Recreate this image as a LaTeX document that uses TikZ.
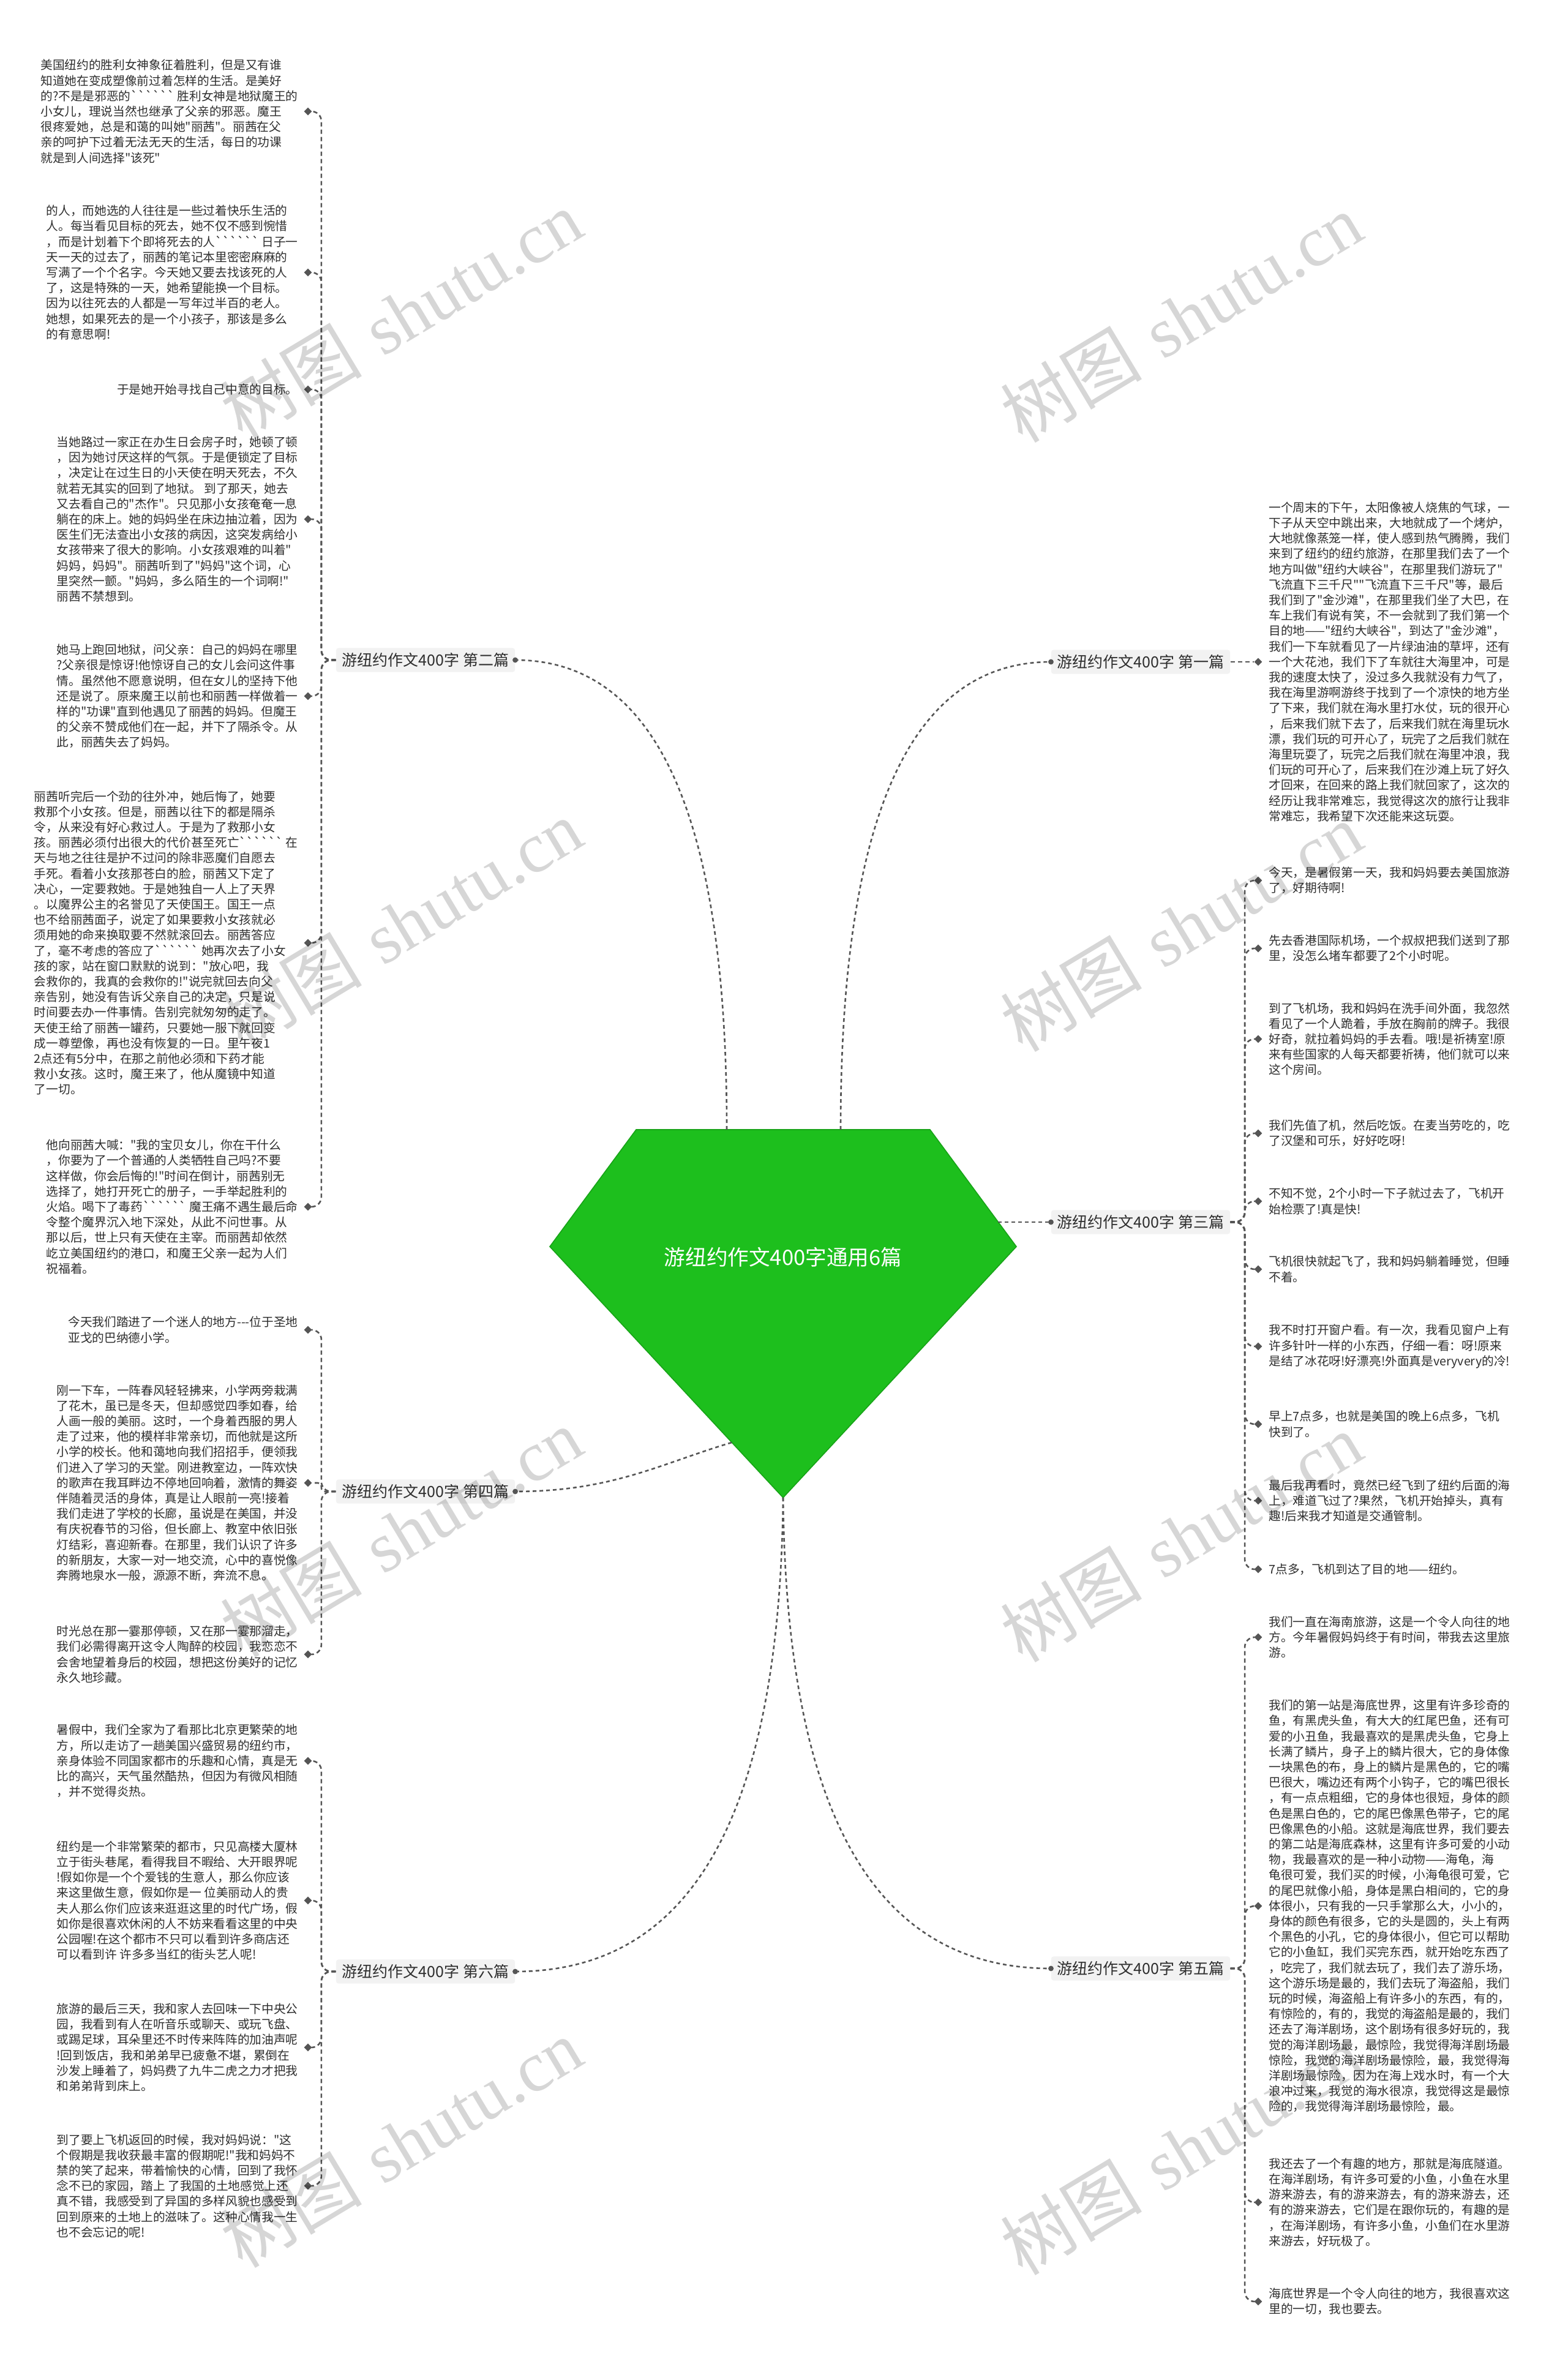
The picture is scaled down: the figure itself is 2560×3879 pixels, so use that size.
\documentclass[tikz,border=0pt]{standalone}
\usepackage{fontspec}
\newfontfamily\cjk{Noto Sans CJK SC}
\newfontfamily\wmserif{Liberation Serif}
\usetikzlibrary{shapes.geometric}
\definecolor{linec}{HTML}{555555}
\definecolor{textc}{HTML}{2E2E2E}
\definecolor{rootg}{HTML}{1DBF1D}
\definecolor{rootb}{HTML}{17A317}
\definecolor{branchbg}{HTML}{F2F2F2}
\newcommand\leaffont{\cjk\fontsize{9.85}{12.6}\selectfont}
\newcommand\branchfont{\cjk\fontsize{12.5}{15}\selectfont}
\newcommand\rootfont{\cjk\fontsize{17.3}{20}\selectfont}
\newcommand\wmtext{{\cjk 树图} {\wmserif shutu.cn}}
\begin{document}
\begin{tikzpicture}[x=0.5pt,y=-0.5pt,
  lt/.style={font=\leaffont, text=textc, align=left, inner sep=0pt},
  dia/.style={diamond, fill=linec, inner sep=0pt, minimum size=6.5pt},
  conn/.style={draw=linec, line width=1.3pt, dash pattern=on 3.5pt off 2.5pt, rounded corners=8pt},
  mainconn/.style={draw=linec, line width=1.3pt, dash pattern=on 3pt off 2.5pt},
  branch/.style={font=\branchfont, text=textc, fill=branchbg, inner xsep=5pt, inner ysep=4pt, rounded corners=2pt},
  wm/.style={font=\fontsize{58}{60}\selectfont, text=black, text opacity=0.16, rotate=31, inner sep=0pt}
]
\useasboundingbox[fill=white] (0,0) rectangle (2560,3879);

% ---------- centre ----------
\coordinate (p1) at (1039,1845);
\coordinate (p2) at (1519,1845);
\coordinate (p3) at (1660,2036);
\coordinate (p4) at (1279,2446);
\coordinate (p5) at (898,2036);
\path[fill=rootg, draw=rootb, line width=0.8pt] (p1) -- (p2) -- (p3) -- (p4) -- (p5) -- cycle;
\node[font=\rootfont, text=white, inner sep=0pt] (root) at (1279,2053) {游纽约作文400字通用6篇};

% ---------- branch labels ----------
\node[branch] (B2) at (695,1078) {游纽约作文400字 第二篇};
\node[branch] (B4) at (695,2436) {游纽约作文400字 第四篇};
\node[branch] (B6) at (695,3220) {游纽约作文400字 第六篇};
\node[branch] (B1) at (1863,1081) {游纽约作文400字 第一篇};
\node[branch] (B3) at (1863,1996) {游纽约作文400字 第三篇};
\node[branch] (B5) at (1863,3215) {游纽约作文400字 第五篇};

\coordinate (a2) at (1187,1845);
\coordinate (a1) at (1373,1845);
\coordinate (a3) at (1630,1996);
\coordinate (a4) at (1195,2356);
\coordinate (a56) at (1279,2446);
\draw[mainconn] (a2) .. controls (1187,1350) and (1080,1078) .. (B2.east);
\draw[mainconn] (a1) .. controls (1373,1350) and (1480,1081) .. (B1.west);
\draw[mainconn] (a3) -- (B3.west);
\draw[mainconn] (a4) .. controls (1080,2390) and (1000,2436) .. (B4.east);
\draw[mainconn] (a56) .. controls (1285,3000) and (1450,3215) .. (B5.west);
\draw[mainconn] (a56) .. controls (1273,3000) and (1110,3220) .. (B6.east);
\foreach \b in {B2,B4,B6} \fill[linec] (\b.east) circle (2.2pt);
\foreach \b in {B1,B3,B5} \fill[linec] (\b.west) circle (2.2pt);

% ---------- left: 第二篇 ----------
\node[lt, anchor=east] (L2a) at (487,182) {美国纽约的胜利女神象征着胜利，但是又有谁\\
知道她在变成塑像前过着怎样的生活。是美好\\
的?不是是邪恶的`````` 胜利女神是地狱魔王的\\
小女儿，理说当然也继承了父亲的邪恶。魔王\\
很疼爱她，总是和蔼的叫她"丽茜"。丽茜在父\\
亲的呵护下过着无法无天的生活，每日的功课\\
就是到人间选择"该死"};
\node[lt, anchor=east] (L2b) at (487,445) {的人，而她选的人往往是一些过着快乐生活的\\
人。每当看见目标的死去，她不仅不感到惋惜\\
，而是计划着下个即将死去的人`````` 日子一\\
天一天的过去了，丽茜的笔记本里密密麻麻的\\
写满了一个个名字。今天她又要去找该死的人\\
了，这是特殊的一天，她希望能换一个目标。\\
因为以往死去的人都是一写年过半百的老人。\\
她想，如果死去的是一个小孩子，那该是多么\\
的有意思啊!};
\node[lt, anchor=east] (L2c) at (487,636) {于是她开始寻找自己中意的目标。};
\node[lt, anchor=east] (L2d) at (487,848) {当她路过一家正在办生日会房子时，她顿了顿\\
，因为她讨厌这样的气氛。于是便锁定了目标\\
，决定让在过生日的小天使在明天死去，不久\\
就若无其实的回到了地狱。 到了那天，她去\\
又去看自己的"杰作"。只见那小女孩奄奄一息\\
躺在的床上。她的妈妈坐在床边抽泣着，因为\\
医生们无法查出小女孩的病因，这突发病给小\\
女孩带来了很大的影响。小女孩艰难的叫着"\\
妈妈，妈妈"。丽茜听到了"妈妈"这个词，心\\
里突然一颤。"妈妈，多么陌生的一个词啊!"\\
丽茜不禁想到。};
\node[lt, anchor=east] (L2e) at (487,1137) {她马上跑回地狱，问父亲：自己的妈妈在哪里\\
?父亲很是惊讶!他惊讶自己的女儿会问这件事\\
情。虽然他不愿意说明，但在女儿的坚持下他\\
还是说了。原来魔王以前也和丽茜一样做着一\\
样的"功课"直到他遇见了丽茜的妈妈。但魔王\\
的父亲不赞成他们在一起，并下了隔杀令。从\\
此，丽茜失去了妈妈。};
\node[lt, anchor=east] (L2f) at (487,1540) {丽茜听完后一个劲的往外冲，她后悔了，她要\\
救那个小女孩。但是，丽茜以往下的都是隔杀\\
令，从来没有好心救过人。于是为了救那小女\\
孩。丽茜必须付出很大的代价甚至死亡`````` 在\\
天与地之往往是护不过问的除非恶魔们自愿去\\
手死。看着小女孩那苍白的脸，丽茜又下定了\\
决心，一定要救她。于是她独自一人上了天界\\
。以魔界公主的名誉见了天使国王。国王一点\\
也不给丽茜面子，说定了如果要救小女孩就必\\
须用她的命来换取要不然就滚回去。丽茜答应\\
了，毫不考虑的答应了`````` 她再次去了小女\\
孩的家，站在窗口默默的说到："放心吧，我\\
会救你的，我真的会救你的!"说完就回去向父\\
亲告别，她没有告诉父亲自己的决定，只是说\\
时间要去办一件事情。告别完就匆匆的走了。\\
天使王给了丽茜一罐药，只要她一服下就回变\\
成一尊塑像，再也没有恢复的一日。里午夜1\\
2点还有5分中，在那之前他必须和下药才能\\
救小女孩。这时，魔王来了，他从魔镜中知道\\
了一切。};
\node[lt, anchor=east] (L2g) at (487,1971) {他向丽茜大喊："我的宝贝女儿，你在干什么\\
，你要为了一个普通的人类牺牲自己吗?不要\\
这样做，你会后悔的!"时间在倒计，丽茜别无\\
选择了，她打开死亡的册子，一手举起胜利的\\
火焰。喝下了毒药`````` 魔王痛不遇生最后命\\
令整个魔界沉入地下深处，从此不问世事。从\\
那以后，世上只有天使在主宰。而丽茜却依然\\
屹立美国纽约的港口，和魔王父亲一起为人们\\
祝福着。};

% ---------- left: 第四篇 ----------
\node[lt, anchor=east] (L4a) at (487,2172) {今天我们踏进了一个迷人的地方---位于圣地\\
亚戈的巴纳德小学。};
\node[lt, anchor=east] (L4b) at (487,2422) {刚一下车，一阵春风轻轻拂来，小学两旁栽满\\
了花木，虽已是冬天，但却感觉四季如春，给\\
人画一般的美丽。这时，一个身着西服的男人\\
走了过来，他的模样非常亲切，而他就是这所\\
小学的校长。他和蔼地向我们招招手，便领我\\
们进入了学习的天堂。刚进教室边，一阵欢快\\
的歌声在我耳畔边不停地回响着，激情的舞姿\\
伴随着灵活的身体，真是让人眼前一亮!接着\\
我们走进了学校的长廊，虽说是在美国，并没\\
有庆祝春节的习俗，但长廊上、教室中依旧张\\
灯结彩，喜迎新春。在那里，我们认识了许多\\
的新朋友，大家一对一地交流，心中的喜悦像\\
奔腾地泉水一般，源源不断，奔流不息。};
\node[lt, anchor=east] (L4c) at (487,2702) {时光总在那一霎那停顿，又在那一霎那溜走，\\
我们必需得离开这令人陶醉的校园，我恋恋不\\
会舍地望着身后的校园，想把这份美好的记忆\\
永久地珍藏。};

% ---------- left: 第六篇 ----------
\node[lt, anchor=east] (L6a) at (487,2876) {暑假中，我们全家为了看那比北京更繁荣的地\\
方，所以走访了一趟美国兴盛贸易的纽约市，\\
亲身体验不同国家都市的乐趣和心情，真是无\\
比的高兴，天气虽然酷热，但因为有微风相随\\
，并不觉得炎热。};
\node[lt, anchor=east] (L6b) at (487,3104) {纽约是一个非常繁荣的都市，只见高楼大厦林\\
立于街头巷尾，看得我目不暇给、大开眼界呢\\
!假如你是一个个爱钱的生意人，那么你应该\\
来这里做生意，假如你是一 位美丽动人的贵\\
夫人那么你们应该来逛逛这里的时代广场，假\\
如你是很喜欢休闲的人不妨来看看这里的中央\\
公园喔!在这个都市不只可以看到许多商店还\\
可以看到许 许多多当红的街头艺人呢!};
\node[lt, anchor=east] (L6c) at (487,3344) {旅游的最后三天，我和家人去回味一下中央公\\
园，我看到有人在听音乐或聊天、或玩飞盘、\\
或踢足球，耳朵里还不时传来阵阵的加油声呢\\
!回到饭店，我和弟弟早已疲惫不堪，累倒在\\
沙发上睡着了，妈妈费了九牛二虎之力才把我\\
和弟弟背到床上。};
\node[lt, anchor=east] (L6d) at (487,3570) {到了要上飞机返回的时候，我对妈妈说："这\\
个假期是我收获最丰富的假期呢!"我和妈妈不\\
禁的笑了起来，带着愉快的心情，回到了我怀\\
念不已的家园，踏上 了我国的土地感觉上还\\
真不错，我感受到了异国的多样风貌也感受到\\
回到原来的土地上的滋味了。这种心情我一生\\
也不会忘记的呢!};

% ---------- right: 第一篇 ----------
\node[lt, anchor=west] (R1a) at (2072,1081) {一个周末的下午，太阳像被人烧焦的气球，一\\
下子从天空中跳出来，大地就成了一个烤炉，\\
大地就像蒸笼一样，使人感到热气腾腾，我们\\
来到了纽约的纽约旅游，在那里我们去了一个\\
地方叫做"纽约大峡谷"，在那里我们游玩了"\\
飞流直下三千尺""飞流直下三千尺"等，最后\\
我们到了"金沙滩"，在那里我们坐了大巴，在\\
车上我们有说有笑，不一会就到了我们第一个\\
目的地——"纽约大峡谷"，到达了"金沙滩"，\\
我们一下车就看见了一片绿油油的草坪，还有\\
一个大花池，我们下了车就往大海里冲，可是\\
我的速度太快了，没过多久我就没有力气了，\\
我在海里游啊游终于找到了一个凉快的地方坐\\
了下来，我们就在海水里打水仗，玩的很开心\\
，后来我们就下去了，后来我们就在海里玩水\\
漂，我们玩的可开心了，玩完了之后我们就在\\
海里玩耍了，玩完之后我们就在海里冲浪，我\\
们玩的可开心了，后来我们在沙滩上玩了好久\\
才回来，在回来的路上我们就回家了，这次的\\
经历让我非常难忘，我觉得这次的旅行让我非\\
常难忘，我希望下次还能来这玩耍。};

% ---------- right: 第三篇 ----------
\node[lt, anchor=west] (R3a) at (2072,1438) {今天，是暑假第一天，我和妈妈要去美国旅游\\
了，好期待啊!};
\node[lt, anchor=west] (R3b) at (2072,1549) {先去香港国际机场，一个叔叔把我们送到了那\\
里，没怎么堵车都要了2个小时呢。};
\node[lt, anchor=west] (R3c) at (2072,1697) {到了飞机场，我和妈妈在洗手间外面，我忽然\\
看见了一个人跪着，手放在胸前的牌子。我很\\
好奇，就拉着妈妈的手去看。哦!是祈祷室!原\\
来有些国家的人每天都要祈祷，他们就可以来\\
这个房间。};
\node[lt, anchor=west] (R3d) at (2072,1851) {我们先值了机，然后吃饭。在麦当劳吃的，吃\\
了汉堡和可乐，好好吃呀!};
\node[lt, anchor=west] (R3e) at (2072,1962) {不知不觉，2个小时一下子就过去了，飞机开\\
始检票了!真是快!};
\node[lt, anchor=west] (R3f) at (2072,2073) {飞机很快就起飞了，我和妈妈躺着睡觉，但睡\\
不着。};
\node[lt, anchor=west] (R3g) at (2072,2199) {我不时打开窗户看。有一次，我看见窗户上有\\
许多针叶一样的小东西，仔细一看：呀!原来\\
是结了冰花呀!好漂亮!外面真是veryvery的冷!};
\node[lt, anchor=west] (R3h) at (2072,2326) {早上7点多，也就是美国的晚上6点多，飞机\\
快到了。};
\node[lt, anchor=west] (R3i) at (2072,2451) {最后我再看时，竟然已经飞到了纽约后面的海\\
上，难道飞过了?果然，飞机开始掉头，真有\\
趣!后来我才知道是交通管制。};
\node[lt, anchor=west] (R3j) at (2072,2563) {7点多，飞机到达了目的地——纽约。};

% ---------- right: 第五篇 ----------
\node[lt, anchor=west] (R5a) at (2072,2674) {我们一直在海南旅游，这是一个令人向往的地\\
方。今年暑假妈妈终于有时间，带我去这里旅\\
游。};
\node[lt, anchor=west] (R5b) at (2072,3113) {我们的第一站是海底世界，这里有许多珍奇的\\
鱼，有黑虎头鱼，有大大的红尾巴鱼，还有可\\
爱的小丑鱼，我最喜欢的是黑虎头鱼，它身上\\
长满了鳞片，身子上的鳞片很大，它的身体像\\
一块黑色的布，身上的鳞片是黑色的，它的嘴\\
巴很大，嘴边还有两个小钩子，它的嘴巴很长\\
，有一点点粗细，它的身体也很短，身体的颜\\
色是黑白色的，它的尾巴像黑色带子，它的尾\\
巴像黑色的小船。这就是海底世界，我们要去\\
的第二站是海底森林，这里有许多可爱的小动\\
物，我最喜欢的是一种小动物——海龟，海\\
龟很可爱，我们买的时候，小海龟很可爱，它\\
的尾巴就像小船，身体是黑白相间的，它的身\\
体很小，只有我的一只手掌那么大，小小的，\\
身体的颜色有很多，它的头是圆的，头上有两\\
个黑色的小孔，它的身体很小，但它可以帮助\\
它的小鱼缸，我们买完东西，就开始吃东西了\\
，吃完了，我们就去玩了，我们去了游乐场，\\
这个游乐场是最的，我们去玩了海盗船，我们\\
玩的时候，海盗船上有许多小的东西，有的，\\
有惊险的，有的，我觉的海盗船是最的，我们\\
还去了海洋剧场，这个剧场有很多好玩的，我\\
觉的海洋剧场最，最惊险，我觉得海洋剧场最\\
惊险，我觉的海洋剧场最惊险，最，我觉得海\\
洋剧场最惊险，因为在海上戏水时，有一个大\\
浪冲过来，我觉的海水很凉，我觉得这是最惊\\
险的，我觉得海洋剧场最惊险，最。};
\node[lt, anchor=west] (R5c) at (2072,3597) {我还去了一个有趣的地方，那就是海底隧道。\\
在海洋剧场，有许多可爱的小鱼，小鱼在水里\\
游来游去，有的游来游去，有的游来游去，还\\
有的游来游去，它们是在跟你玩的，有趣的是\\
，在海洋剧场，有许多小鱼，小鱼们在水里游\\
来游去，好玩极了。};
\node[lt, anchor=west] (R5d) at (2072,3759) {海底世界是一个令人向往的地方，我很喜欢这\\
里的一切，我也要去。};

% ---------- diamonds ----------
\foreach \n in {L2a,L2b,L2c,L2d,L2e,L2f,L2g,L4a,L4b,L4c,L6a,L6b,L6c,L6d}
  \node[dia] (d\n) at (503,0 |- \n.west) {};
\foreach \n in {R1a,R3a,R3b,R3c,R3d,R3e,R3f,R3g,R3h,R3i,R3j,R5a,R5b,R5c,R5d}
  \node[dia] (d\n) at (2055,0 |- \n.west) {};

% ---------- leaf connectors ----------
\foreach \n in {L2a,L2b,L2c,L2d,L2e,L2f,L2g}
  \draw[conn] (B2.west) -| ([xshift=7.5pt]d\n.east) -- (d\n.east);
\foreach \n in {L4a,L4c}
  \draw[conn] (B4.west) -| ([xshift=7.5pt]d\n.east) -- (d\n.east);
\draw[conn, rounded corners=3pt] (B4.west) -| ([xshift=7.5pt]dL4b.east) -- (dL4b.east);
\foreach \n in {L6a,L6b,L6c,L6d}
  \draw[conn] (B6.west) -| ([xshift=7.5pt]d\n.east) -- (d\n.east);
\draw[conn] (B1.east) -- (dR1a.west);
\foreach \n in {R3a,R3b,R3c,R3d,R3e,R3f,R3g,R3h,R3i,R3j}
  \draw[conn] (B3.east) -| ([xshift=-7.5pt]d\n.west) -- (d\n.west);
\foreach \n in {R5a,R5b,R5c,R5d}
  \draw[conn] (B5.east) -| ([xshift=-7.5pt]d\n.west) -- (d\n.west);

% ---------- watermarks ----------
\node[wm] (wm1) at (655,514) {\wmtext};
\node[wm] (wm2) at (1929,519) {\wmtext};
\node[wm] (wm3) at (655,1509) {\wmtext};
\node[wm] (wm4) at (1929,1514) {\wmtext};
\node[wm] (wm5) at (655,2503) {\wmtext};
\node[wm] (wm6) at (1929,2511) {\wmtext};
\node[wm] (wm7) at (655,3500) {\wmtext};
\node[wm] (wm8) at (1929,3512) {\wmtext};
\end{tikzpicture}
\end{document}
